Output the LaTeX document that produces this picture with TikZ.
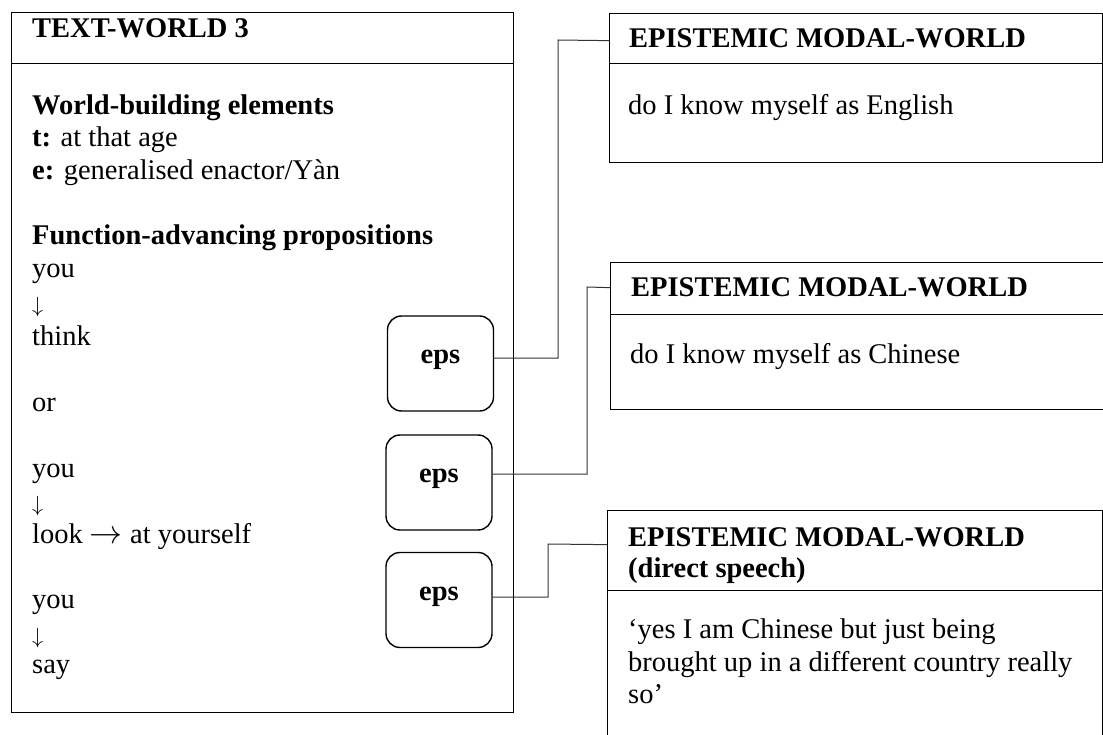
\documentclass[tikz,border=0pt]{standalone}
\usepackage{fontspec}
\setmainfont{Liberation Serif}
\newcommand{\dnarrow}{\resizebox{11pt}{!}{$\downarrow$}}
\newcommand{\rtarrow}{\resizebox{33pt}{!}{$\rightarrow$}}
\begin{document}
\begin{tikzpicture}[x=1pt,y=-1pt,
  every node/.style={font=\fontsize{28.5}{33}\selectfont},
  frame/.style={draw=black, line width=1.3pt, inner sep=0pt, anchor=north west},
  txt/.style={anchor=base west, inner sep=0pt},
  btxt/.style={txt, font=\fontsize{28.5}{33}\selectfont\bfseries},
  epsbox/.style={draw=black, line width=1.4pt, rounded corners=14pt,
    minimum width=106pt, minimum height=95pt, inner sep=0pt,
    text height=0pt, text depth=0pt,
    font=\fontsize{28.5}{33}\selectfont\bfseries},
  link/.style={draw=black!80, line width=1pt}]

\useasboundingbox (0,0) rectangle (1103,735);
\clip (0,0) rectangle (1103,735);

% ---- Text-world 3 box
\node[frame, minimum width=502pt, minimum height=51pt] (twh) at (11,12) {};
\node[frame, minimum width=502pt, minimum height=649pt] (twb) at (11,63) {};

\node[btxt] (t0) at (32,38) {TEXT-WORLD 3};
\node[btxt] (t1) at (32,115) {World-building elements};
\node[txt] (t2) at (32,147) {\textbf{t:} at that age};
\node[txt] (t3) at (32,180) {\textbf{e:} generalised enactor/Yàn};
\node[btxt] (t4) at (32,245) {Function-advancing propositions};
\node[txt] (t5) at (32,278) {you};
\node[txt] (t6) at (32,313) {\dnarrow};
\node[txt] (t7) at (32,345) {think};
\node[txt] (t8) at (32,411) {or};
\node[txt] (t9) at (32,477) {you};
\node[txt] (t10) at (32,511) {\dnarrow};
\node[txt] (t11) at (32,543) {look \rtarrow{} at yourself};
\node[txt] (t12) at (32,608) {you};
\node[txt] (t13) at (32,643) {\dnarrow};
\node[txt] (t14) at (32,673) {say};

% ---- eps boxes
\node[epsbox] (e1) at (440.5,363.5) {eps};
\node[epsbox] (e2) at (439,482.5) {eps};
\node[epsbox] (e3) at (439,600) {eps};

% ---- Epistemic modal-world boxes
\node[frame, minimum width=493pt, minimum height=50pt] (h1) at (609,13) {};
\node[frame, minimum width=493pt, minimum height=99pt] (b1) at (609,63) {};
\node[btxt] (h1t) at (629,48) {EPISTEMIC MODAL-WORLD};
\node[txt] (b1t) at (628,115) {do I know myself as English};

\node[frame, minimum width=494pt, minimum height=52pt] (h2) at (610,262) {};
\node[frame, minimum width=494pt, minimum height=95pt] (b2) at (610,314) {};
\node[btxt] (h2t) at (631,297) {EPISTEMIC MODAL-WORLD};
\node[txt] (b2t) at (630,363) {do I know myself as Chinese};

\node[frame, minimum width=495pt, minimum height=80pt] (h3) at (607,510) {};
\node[frame, minimum width=495pt, minimum height=200pt] (b3) at (607,590) {};
\node[btxt] (h3t) at (628,546) {EPISTEMIC MODAL-WORLD};
\node[btxt] (h3u) at (628,577) {(direct speech)};
\node[txt] (b3a) at (628,638) {‘yes I am Chinese but just being};
\node[txt] (b3b) at (628,671) {brought up in a different country really};
\node[txt] (b3c) at (628,703) {so’};

% ---- connectors
\draw[link] ([yshift=5.5pt]e1.east) -| (558,40) -- ([yshift=-2pt]h1.west);
\draw[link] ([yshift=8.5pt]e2.east) -| (587,287) -- ([yshift=1pt]h2.west);
\draw[link] ([yshift=3pt]e3.east) -| (548,544) -- ([yshift=6pt]h3.west);
\end{tikzpicture}
\end{document}
